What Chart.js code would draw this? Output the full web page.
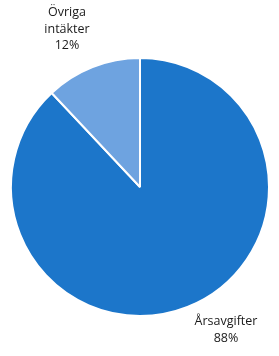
<!DOCTYPE html>
<html>
<head>
<meta charset="utf-8">
<script src="https://cdn.jsdelivr.net/npm/chart.js@4/dist/chart.umd.min.js"></script>
<style>
  html, body { margin: 0; padding: 0; background: #fff; }
  #wrap { position: relative; width: 279px; height: 356px; }
  canvas { position: absolute; left: 0; top: 0; }
  .lbl { position: absolute; font-family: "Open Sans", "Noto Sans", sans-serif; font-size: 12.5px; line-height: 16.5px; color: #1a1a1a; text-align: center; white-space: nowrap; transform: translateX(-50%); }
</style>
</head>
<body>
<div id="wrap">
  <canvas id="c" width="279" height="356"></canvas>
  <div class="lbl" id="l0" style="left:226px; top:313px;"></div>
  <div class="lbl" id="l1" style="left:67px; top:4px;"></div>
</div>
<script>
const categories = ["Årsavgifter", "Övriga intäkter"];
const labelLines = [["Årsavgifter"], ["Övriga", "intäkter"]];
const values = [88, 12];
const colors = ["#1c76ca", "#6ea3e0"];

labelLines.forEach((lines, i) => {
  document.getElementById("l" + i).innerHTML = lines.join("<br>") + "<br>" + values[i] + "%";
});

new Chart(document.getElementById("c"), {
  type: "pie",
  data: {
    labels: categories,
    datasets: [{
      data: values,
      backgroundColor: colors,
      borderColor: "#ffffff",
      borderWidth: 2
    }]
  },
  options: {
    responsive: false,
    animation: false,
    layout: { padding: { left: 10, right: 9, top: 57, bottom: 39 } },
    plugins: { legend: { display: false }, tooltip: { enabled: false } }
  }
});
</script>
</body>
</html>
